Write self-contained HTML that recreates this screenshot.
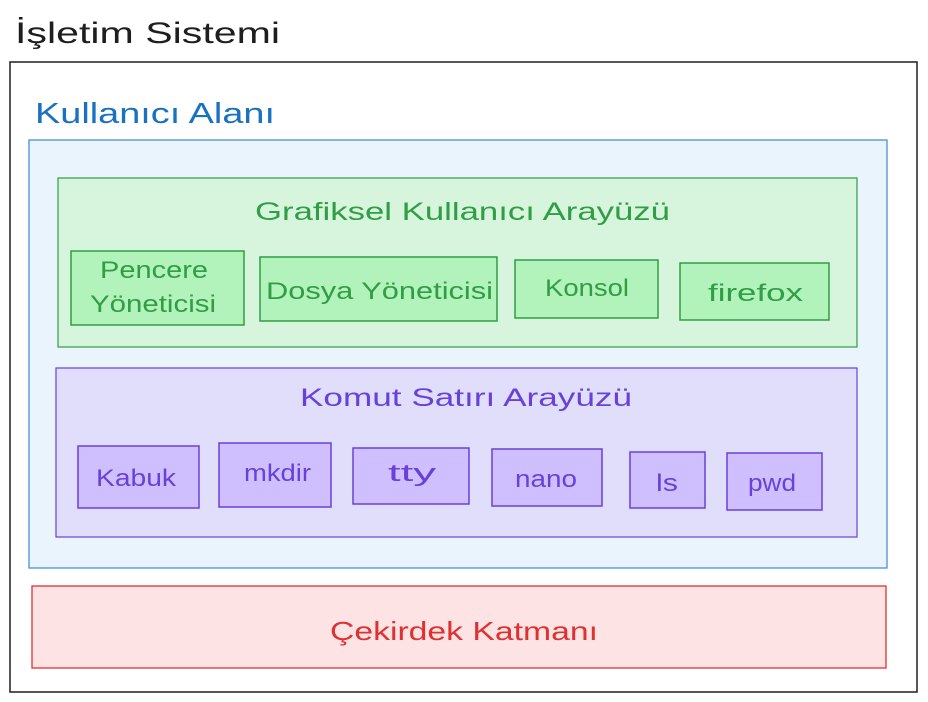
<!DOCTYPE html>
<html><head><meta charset="utf-8"><style>
html,body{margin:0;padding:0;background:#fff;width:928px;height:702px;overflow:hidden}
text{font-family:"Liberation Sans",sans-serif}
</style></head><body>
<svg width="928" height="702" viewBox="0 0 928 702" xmlns="http://www.w3.org/2000/svg">
<text x="15" y="43" font-size="30" fill="#1e1e1e" textLength="265" lengthAdjust="spacingAndGlyphs">İşletim Sistemi</text>
<rect x="10" y="62" width="907" height="630" fill="#fff" stroke="#1e1e1e" stroke-width="1.5"/>
<text x="35" y="123" font-size="29" fill="#1971c2" textLength="240" lengthAdjust="spacingAndGlyphs">Kullanıcı Alanı</text>
<rect x="29" y="140" width="858" height="428" fill="#e9f4fd" stroke="#4a90d9" stroke-width="1.3"/>
<rect x="58" y="178" width="799" height="169" fill="#d7f4dc" stroke="#2f9e44" stroke-width="1.2"/>
<text x="255" y="220" font-size="25" fill="#2f9e44" textLength="415" lengthAdjust="spacingAndGlyphs">Grafiksel Kullanıcı Arayüzü</text>
<g fill="#b2f2bb" stroke="#2f9e44" stroke-width="1.5">
<rect x="71" y="251" width="173" height="74"/>
<rect x="260" y="257" width="237" height="64"/>
<rect x="515" y="260" width="143" height="58"/>
<rect x="680" y="263" width="149" height="57"/>
</g>
<g fill="#2f9e44" font-size="24">
<text x="100" y="278" textLength="108" lengthAdjust="spacingAndGlyphs">Pencere</text>
<text x="90" y="312" textLength="126" lengthAdjust="spacingAndGlyphs">Yöneticisi</text>
<text x="266" y="299" textLength="227" lengthAdjust="spacingAndGlyphs">Dosya Yöneticisi</text>
<text x="545" y="296" textLength="84" lengthAdjust="spacingAndGlyphs">Konsol</text>
<text x="708" y="301" textLength="95" lengthAdjust="spacingAndGlyphs">firefox</text>
</g>
<rect x="56" y="368" width="801" height="169" fill="#e1defb" stroke="#6741d9" stroke-width="1.2"/>
<text x="300" y="406" font-size="25" fill="#6741d9" textLength="332" lengthAdjust="spacingAndGlyphs">Komut Satırı Arayüzü</text>
<g fill="#d0bfff" stroke="#6741d9" stroke-width="1.5">
<rect x="78" y="446" width="121" height="62"/>
<rect x="219" y="443" width="112" height="64"/>
<rect x="353" y="448" width="116" height="56"/>
<rect x="492" y="449" width="110" height="57"/>
<rect x="630" y="452" width="75" height="56"/>
<rect x="727" y="453" width="95" height="57"/>
</g>
<g fill="#6741d9" font-size="24">
<text x="96" y="486" textLength="80" lengthAdjust="spacingAndGlyphs">Kabuk</text>
<text x="244" y="481" textLength="67" lengthAdjust="spacingAndGlyphs">mkdir</text>
<text x="388" y="481" textLength="48" lengthAdjust="spacingAndGlyphs">tty</text>
<text x="515" y="487" textLength="62" lengthAdjust="spacingAndGlyphs">nano</text>
<text x="656" y="491" textLength="22" lengthAdjust="spacingAndGlyphs">ls</text>
<text x="748" y="491" textLength="48" lengthAdjust="spacingAndGlyphs">pwd</text>
</g>
<rect x="32" y="586" width="854" height="82" fill="#fde3e3" stroke="#e03131" stroke-width="1.3"/>
<text x="330" y="640" font-size="26" fill="#e03131" textLength="268" lengthAdjust="spacingAndGlyphs">Çekirdek Katmanı</text>
</svg>
</body></html>
